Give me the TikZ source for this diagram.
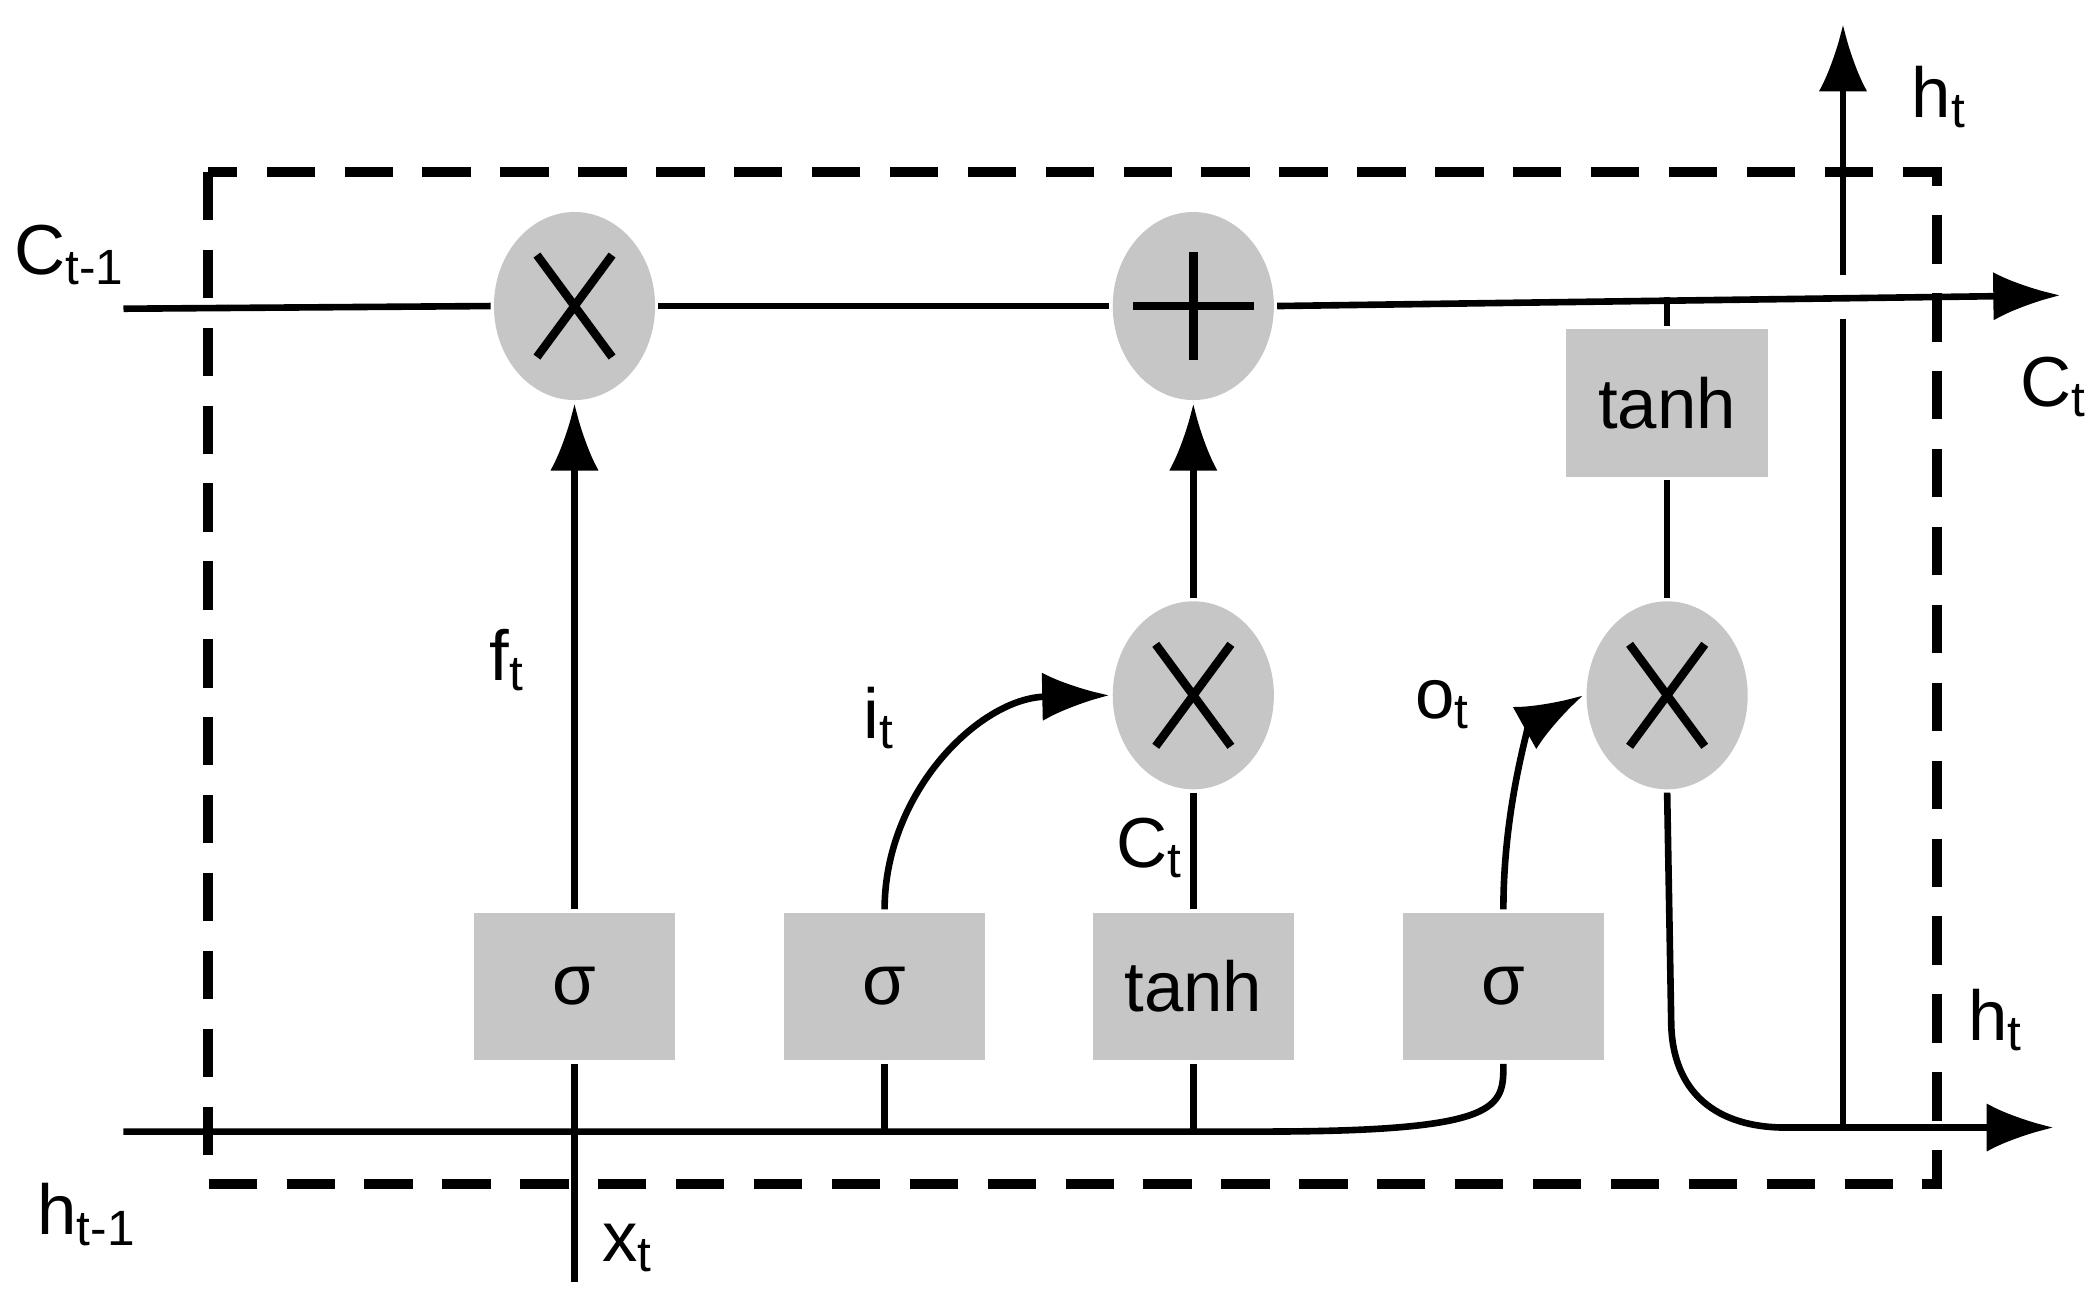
\documentclass[tikz,border=0pt]{standalone}
\usepackage{fontspec}
\setmainfont{Liberation Sans}
\usetikzlibrary{positioning,calc,arrows.meta,shapes.geometric}

\begin{document}
\begin{tikzpicture}[x=0.01cm,y=-0.01cm,line width=1.4pt,
  font=\fontsize{15}{17}\selectfont,
  op/.style={ellipse,fill=gray!45,minimum width=1.2cm,minimum height=1.4cm,inner sep=0pt},
  gate/.style={rectangle,fill=gray!45,minimum width=1.5cm,minimum height=1.1cm,inner sep=0pt},
  arr/.style={-{Latex[length=5mm,width=3.6mm]}}]

\useasboundingbox (0,0) rectangle (1560,973);

% the cell border
\draw[line width=2.2pt,dash pattern=on 3.6mm off 2.2mm] (155,128) rectangle (1443,882);

% operators
\node[op] (fmul) at (428,228) {};
\node[op] (add)  at (889,228) {};
\node[op] (imul) at (889,518) {};
\node[op] (omul) at (1242,518) {};
\foreach \n in {fmul,imul,omul}
  \draw[line width=1.8pt] ($(\n)+(-28,-38)$) -- ($(\n)+(28,38)$)
                          ($(\n)+(-28,38)$) -- ($(\n)+(28,-38)$);
\draw[line width=1.8pt] ($(add)+(-45,0)$) -- ($(add)+(45,0)$)
                        ($(add)+(0,-40)$) -- ($(add)+(0,40)$);

% gates
\node[gate] (fgate) at (428,735)  {σ};
\node[gate] (igate) at (659,735)  {σ};
\node[gate] (cgate) at (889,735)  {tanh};
\node[gate] (ogate) at (1120,735) {σ};
\node[gate] (tanh)  at (1242,300) {tanh};

% named end points
\coordinate (cin)  at (92,230);
\coordinate (cout) at (1535,220);
\coordinate (hin)  at (92,843);
\coordinate (hout) at (1530,840);
\coordinate (xin)  at (428,955);
\coordinate (htop) at (1373,18);
\coordinate (hv)   at (1373,840);
\coordinate (tap)  at (1242,221);

% cell state
\draw (cin) -- (fmul.west);
\draw (fmul.east) -- (add.west);
\draw[arr] (add.east) -- (cout);
\draw (tap) -- (tanh.north);
\draw (tanh.south) -- (omul.north);

% hidden state and input
\draw (hin) -- (940,843) .. controls (1120,843) and (1120,825) .. (ogate.south);
\draw (xin) -- (fgate.south);
\draw (igate.south) -- (659,843);
\draw (cgate.south) -- (889,843);

% gate outputs
\draw[arr] (fgate.north) -- (fmul.south);
\draw[arr] (igate.north) .. controls (659,590) and (730,520) .. (imul.west);
\draw (cgate.north) -- (imul.south);
\draw[arr] (imul.north) -- (add.south);
\draw[arr] (ogate.north) .. controls (1120,600) and (1140,540) .. (omul.west);

% output
\draw[arr] (omul.south) -- (1245,760) .. controls (1245,815) and (1280,840) .. (1330,840) -- (hout);
\draw (hv) -- (1373,238);
\draw[arr] (1373,205) -- (htop);

% labels
\node at (52,190)   {C\textsubscript{t-1}};
\node at (65,905)   {h\textsubscript{t-1}};
\node at (468,930)  {x\textsubscript{t}};
\node at (378,492)  {f\textsubscript{t}};
\node at (655,535)  {i\textsubscript{t}};
\node at (857,632)  {C\textsubscript{t}};
\node at (1075,525) {o\textsubscript{t}};
\node at (1445,72)  {h\textsubscript{t}};
\node at (1487,760) {h\textsubscript{t}};
\node at (1530,288) {C\textsubscript{t}};
\end{tikzpicture}
\end{document}
